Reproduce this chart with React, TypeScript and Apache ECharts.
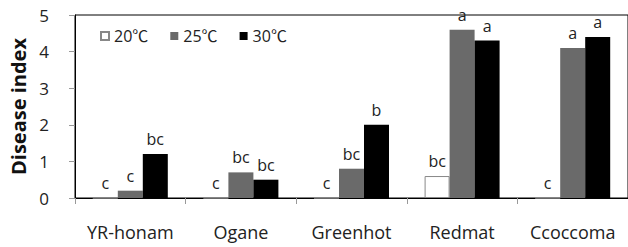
import React, { useEffect, useRef } from "react";
import * as echarts from "echarts";

const categories = ["YR-honam", "Ogane", "Greenhot", "Redmat", "Ccoccoma"];
const seriesNames = ["20℃", "25℃", "30℃"];
const values20 = [0, 0, 0, 0.6, 0];
const values25 = [0.2, 0.7, 0.8, 4.6, 4.1];
const values30 = [1.2, 0.5, 2.0, 4.3, 4.4];
const letters20 = ["c", "c", "c", "bc", "c"];
const letters25 = ["c", "bc", "bc", "a", "a"];
const letters30 = ["bc", "bc", "b", "a", "a"];
const yTicks = [0, 1, 2, 3, 4, 5];

const FONT = "'Open Sans', 'Noto Sans CJK KR', sans-serif";

export default function App() {
  const ref = useRef<HTMLDivElement>(null);
  useEffect(() => {
    if (!ref.current) return;
    const chart = echarts.init(ref.current, null, { renderer: "svg" });
    const mk = (name: string, vals: number[], letters: string[], itemStyle: any) => ({
      name,
      type: "bar",
      barWidth: 25,
      barGap: "0%",
      itemStyle,
      data: vals,
      label: {
        show: true,
        position: "top",
        distance: 7,
        fontFamily: FONT,
        fontSize: 16,
        color: "#222",
        formatter: (p: any) => letters[p.dataIndex],
      },
    });
    chart.setOption({
      animation: false,
      grid: {
        left: 74,
        right: -1,
        top: 15,
        bottom: 49,
        show: true,
        borderColor: "#000",
        borderWidth: 1,
        backgroundColor: "transparent",
      },
      legend: {
        left: 95,
        top: 23,
        icon: "rect",
        itemWidth: 8,
        itemHeight: 8,
        itemGap: 22,
        textStyle: { fontFamily: FONT, fontSize: 16, color: "#222" },
        data: seriesNames,
      },
      xAxis: {
        type: "category",
        data: categories,
        axisLine: { lineStyle: { color: "#000", width: 1 } },
        axisTick: { show: true, length: 6, lineStyle: { color: "#999" } },
        axisLabel: {
          fontFamily: FONT,
          fontSize: 18,
          color: "#222",
          margin: 25,
          interval: 0,
          hideOverlap: false,
        },
      },
      yAxis: {
        type: "value",
        min: 0,
        max: 5,
        interval: 1,
        name: "Disease index",
        nameLocation: "middle",
        nameGap: 47,
        nameTextStyle: { fontFamily: FONT, fontSize: 20, fontWeight: "bold", color: "#111" },
        axisLine: { show: true, lineStyle: { color: "#000", width: 1 } },
        axisTick: { show: true, length: 6, lineStyle: { color: "#999" } },
        splitLine: { show: false },
        axisLabel: {
          fontFamily: FONT,
          fontSize: 17,
          color: "#222",
          margin: 26,
          formatter: (v: number) => (yTicks.includes(v) ? String(v) : ""),
        },
      },
      series: [
        mk(seriesNames[0], values20, letters20, { color: "#fff", borderColor: "#888", borderWidth: 1 }),
        mk(seriesNames[1], values25, letters25, { color: "#6a6a6a" }),
        mk(seriesNames[2], values30, letters30, { color: "#000" }),
      ],
    });
    return () => chart.dispose();
  }, []);
  return (
    <div
      ref={ref}
      style={{ position: "fixed", left: 0, top: 0, width: 628, height: 247, background: "#fff" }}
    />
  );
}
